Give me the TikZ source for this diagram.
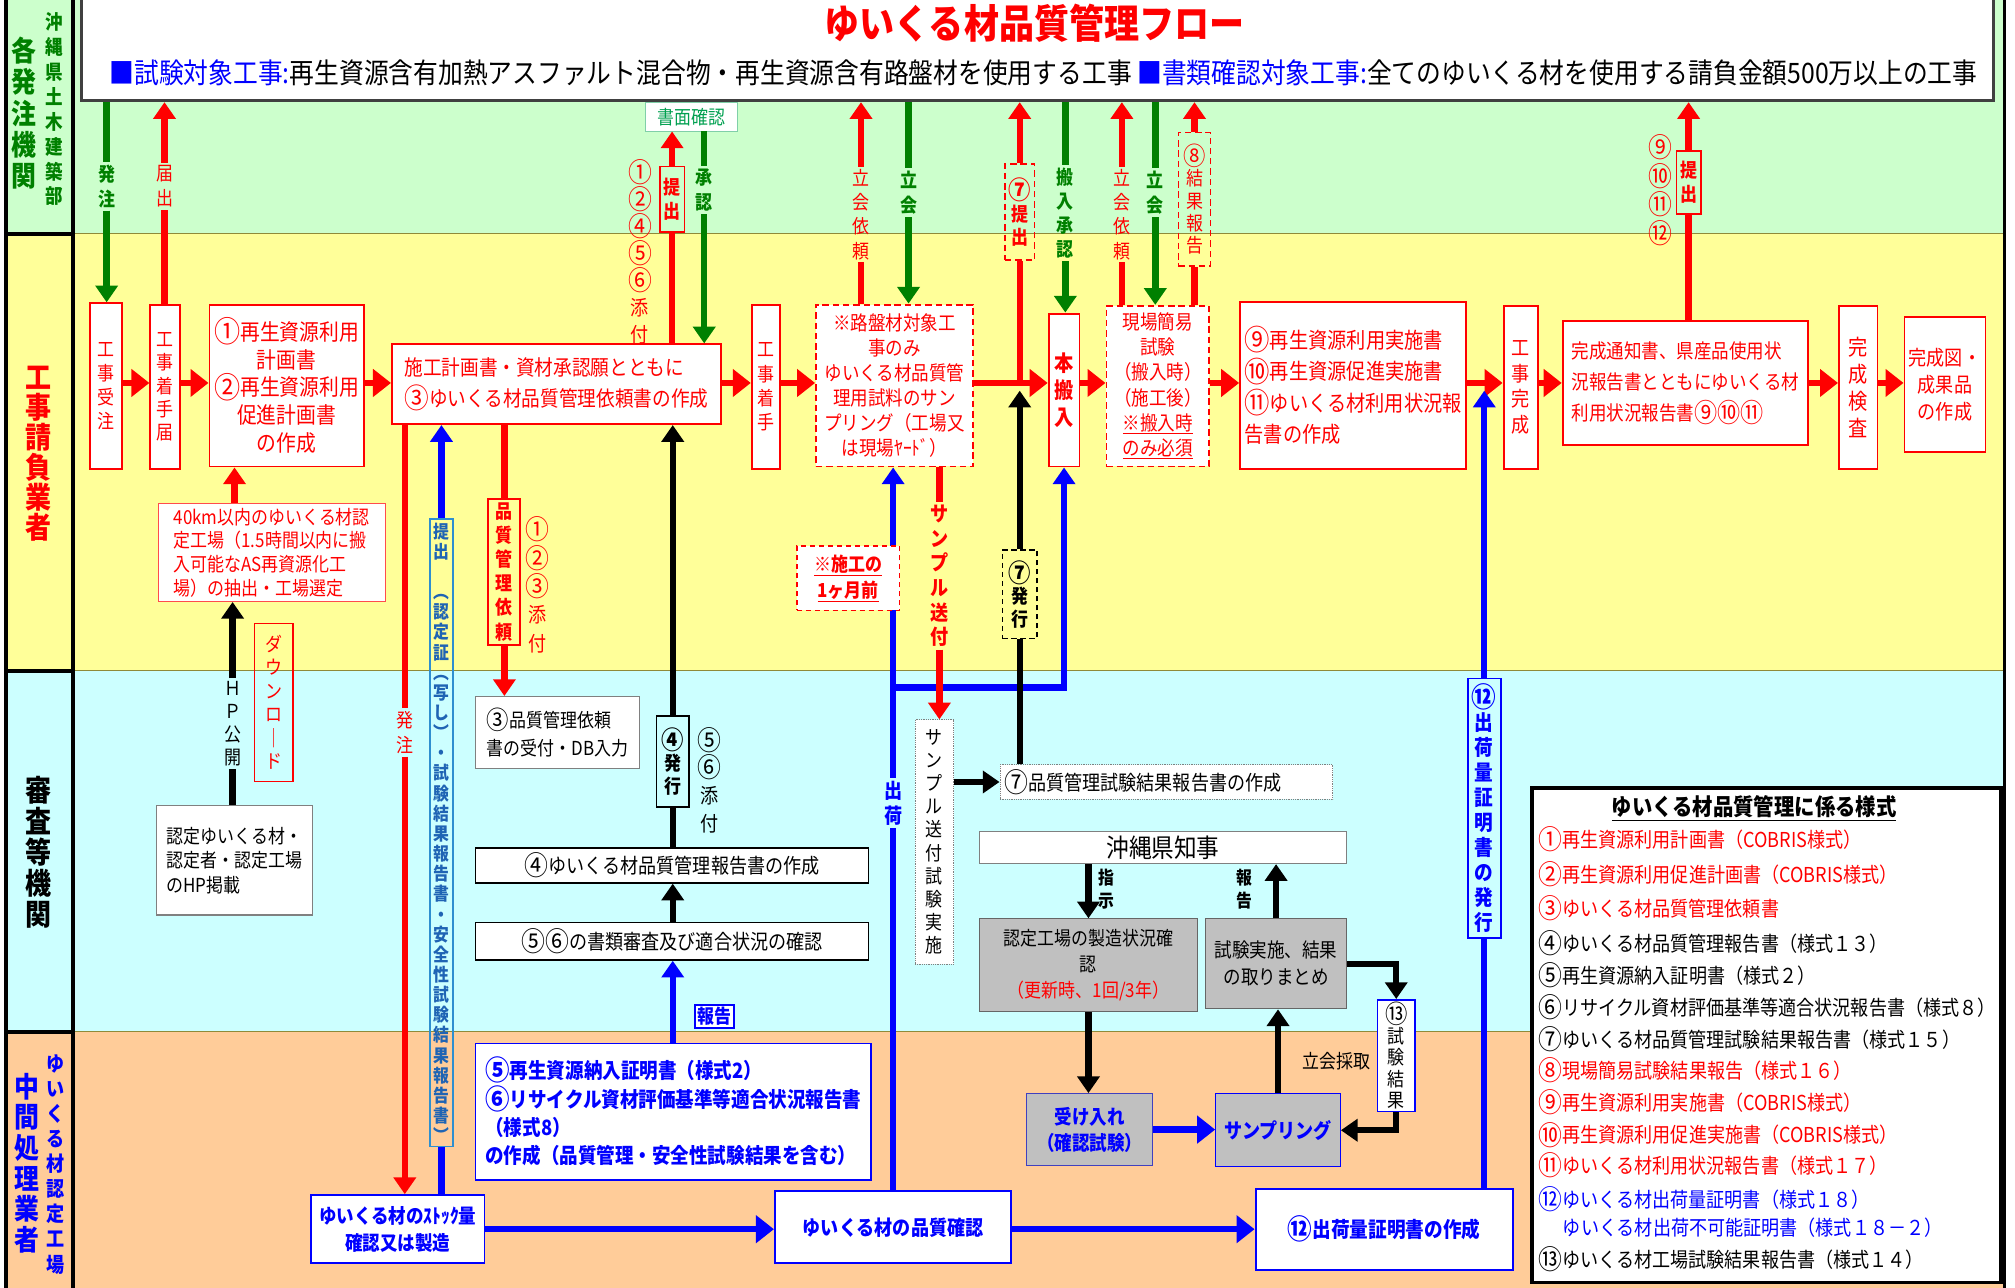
\documentclass[tikz,border=0pt]{standalone}
\usepackage{fontspec}
\usepackage{graphicx}
\setmainfont{Noto Sans CJK JP}[FakeStretch=0.88]
\usetikzlibrary{arrows.meta}
\definecolor{lgreen}{HTML}{CCFFCC}
\definecolor{lyellow}{HTML}{FFFF99}
\definecolor{lcyan}{HTML}{CCFFFF}
\definecolor{lorange}{HTML}{FFCC99}
\definecolor{dgreen}{HTML}{008000}
\definecolor{mgreen}{HTML}{00A050}
\definecolor{boxgray}{HTML}{C0C0C0}
\definecolor{tblue}{HTML}{1F64B4}
\definecolor{tblueb}{HTML}{2E8FD0}
\newcommand\fs[2]{\fontsize{#1}{#2}\selectfont}
\newcommand\C[1]{\raisebox{-0.1em}{\scalebox{1.32}{#1}}}
\ExplSyntaxOn
\NewDocumentCommand\VT{O{1.2}m}{\vbox{\baselineskip=#1em\relax\lineskiplimit=-100pt\relax\lineskip=0pt\relax\tl_map_inline:nn{#2}{\hbox_to_wd:nn{1em}{\hss##1\hss}}}}
\ExplSyntaxOff
\newcommand\BX[7]{\node[inner sep=0pt,minimum width={(#4-#2)*1pt},minimum height={(#5-#3)*1pt},#6] (#1) at ({(#2+#4)/2},{(#3+#5)/2}) {#7};}
\tikzset{
 rl/.style={draw=red,line width=5pt},
 gl/.style={draw=dgreen,line width=5pt},
 bll/.style={draw=blue,line width=5pt},
 kl/.style={draw=black,line width=5pt},
 arr/.style={-{Triangle[length=13pt,width=17pt]}},
 farr/.style={-{Triangle[length=14pt,width=21pt]}},
 rbox/.style={draw=red,line width=1.5pt,fill=white,text=red,font=\fs{15}{15}},
 rdbox/.style={draw=red,dash pattern=on 5pt off 3pt,line width=1.5pt,fill=white,text=red},
 bbox/.style={draw=blue,line width=1.5pt,fill=white,text=blue},
 gbox/.style={draw=gray!80!black,line width=0.8pt,fill=boxgray},
 wbox/.style={draw=gray,line width=0.8pt,fill=white},
 kbox/.style={draw=black,line width=1.2pt,fill=white},
 lab/.style={inner sep=2pt},
 lg/.style={anchor=west,inner sep=0pt,font=\fs{16}{16}},
}
\begin{document}
\begin{tikzpicture}[x=1pt,y=-1pt]
\useasboundingbox (0,0) rectangle (1568,1002);
\fill[white] (0,0) rectangle (1568,1002);
% lanes
\fill[lgreen] (5,0) rectangle (1560,182);
\fill[lyellow] (5,182) rectangle (1560,522);
\fill[lcyan] (5,522) rectangle (1560,803);
\fill[lorange] (5,803) rectangle (1560,1002);
\draw[olive!60!gray,line width=0.8pt] (57,182)--(1560,182) (57,522)--(1560,522) (57,803)--(1560,803);
\draw[line width=3pt] (5,0)--(5,1002) (57,0)--(57,1002) (5,182)--(57,182) (5,522)--(57,522) (5,803)--(57,803);
\draw[line width=2pt] (1560,0)--(1560,1002);
% lane labels
\node[text=dgreen,font=\fs{22}{22}\bfseries] (laneA1) at (19,88) {\VT[1.1]{各発注機関}};
\node[text=dgreen,font=\fs{15.5}{15.5}\bfseries] (laneA2) at (42,85) {\VT[1.25]{沖縄県土木建築部}};
\node[text=red,font=\fs{23}{23}\bfseries] (laneB) at (30,353) {\VT[1.02]{工事請負業者}};
\node[font=\fs{23}{23}\bfseries] (laneC) at (30,663) {\VT[1.05]{審査等機関}};
\node[text=blue,font=\fs{22}{22}\bfseries] (laneD1) at (21,905) {\VT[1.08]{中間処理業者}};
\node[text=blue,font=\fs{16}{16}\bfseries] (laneD2) at (43,906) {\VT[1.22]{ゆいくる材認定工場}};
% title box
\node[draw=black!75,line width=2.5pt,fill=white,minimum width=1488,minimum height=80,inner sep=0,anchor=north west] (title) at (62,-3) {};
\node[text=red,font=\fs{31}{31}\bfseries] (ttl) at (805,18) {ゆいくる材品質管理フロー};
\node[font=\fs{21.9}{21.9}] (sub) at (812,57) {{\color{blue}■試験対象工事:}再生資源含有加熱アスファルト混合物・再生資源含有路盤材を使用する工事\ {\color{blue}■書類確認対象工事:}全てのゆいくる材を使用する請負金額500万以上の工事};
% yellow lane boxes
\BX{juchu}{70}{236}{95}{365}{rbox}{\VT[1.25]{工事受注}}
\BX{chakutodoke}{117}{237}{140}{365}{rbox}{\VT[1.2]{工事着手届}}
\BX{keikaku}{163}{237}{283}{363}{rbox,align=center,font=\fs{17.5}{21.5}}{\C①再生資源利用\\計画書\\\C②再生資源利用\\促進計画書\\の作成}
\BX{sekou}{305}{268}{561}{330}{rbox,align=left,font=\fs{16.5}{24}}{施工計画書・資材承認願とともに\\\C③ゆいくる材品質管理依頼書の作成}
\BX{chakushu}{585}{237}{607}{365}{rbox}{\VT[1.25]{工事着手}}
\BX{robanzai}{635}{237}{757}{363}{rdbox,align=center,font=\fs{15.5}{19.5}}{※路盤材対象工\\事のみ\\ゆいくる材品質管\\理用試料のサン\\プリング（工場又\\は現場ﾔｰﾄﾞ）}
\BX{honhannyu}{816}{244}{840}{363}{rbox,font=\fs{17}{17}\bfseries}{\VT[1.25]{本搬入}}
\BX{genba}{861}{238}{941}{363}{rdbox,align=center,font=\fs{15.5}{19.5}}{現場簡易\\試験\\（搬入時）\\（施工後）\\\underline{※搬入時}\\\underline{のみ必須}}
\BX{jisshi}{965}{235}{1141}{365}{rbox,align=left,font=\fs{17}{24.5}}{\C⑨再生資源利用実施書\\\C⑩再生資源促進実施書\\\C⑪ゆいくる材利用状況報\\告書の作成}
\BX{kansei}{1170}{238}{1197}{365}{rbox,font=\fs{16}{16}}{\VT[1.25]{工事完成}}
\BX{tsuchi}{1216}{250}{1407}{346}{rbox,align=left,font=\fs{15.5}{24}}{完成通知書、県産品使用状\\況報告書とともにゆいくる材\\利用状況報告書\C⑨\C⑩\C⑪}
\BX{kensa}{1431}{238}{1461}{365}{rbox,font=\fs{17}{17}}{\VT[1.25]{完成検査}}
\BX{seika}{1482}{247}{1545}{352}{rbox,align=center,font=\fs{16}{21}}{完成図・\\成果品\\の作成}
\BX{km40}{123}{392}{300}{468}{draw=red!70,line width=0.8pt,fill=white,text=red,align=left,font=\fs{15}{18.5}}{40km以内のゆいくる材認\\定工場（1.5時間以内に搬\\入可能なAS再資源化工\\場）の抽出・工場選定}
% cyan lane boxes
\BX{hp}{122}{627}{243}{712}{wbox,align=left,font=\fs{15}{19}}{認定ゆいくる材・\\認定者・認定工場\\のHP掲載}
\BX{dl}{198}{485}{228}{608}{draw=red,line width=1.2pt,text=red,font=\fs{15}{15}}{\VT[1.22]{ダウンロ｜ド}}
\BX{irai}{380}{388}{405}{502}{draw=red,line width=1.5pt,fill=lyellow,text=red,font=\fs{15}{15}\bfseries}{\VT[1.25]{品質管理依頼}}
\BX{uketsuke}{370}{542}{498}{598}{wbox,align=left,font=\fs{15}{22}}{\C③品質管理依頼\\書の受付・DB入力}
\BX{rep4}{370}{660}{676}{687}{kbox,font=\fs{16}{16}}{\C④ゆいくる材品質管理報告書の作成}
\BX{rev56}{370}{718}{676}{747}{kbox,font=\fs{16}{16}}{\C⑤\C⑥の書類審査及び適合状況の確認}
\BX{sample}{712}{560}{742}{750}{draw=gray,densely dotted,fill=white,font=\fs{15}{15}}{\VT[1.2]{サンプル送付試験実施}}
\BX{r7}{778}{595}{1037}{622}{draw=gray,densely dotted,fill=white,font=\fs{16}{16},text width=252pt,align=left}{\C⑦品質管理試験結果報告書の作成}
\BX{chiji}{762}{647}{1048}{672}{wbox,font=\fs{20}{20}}{沖縄県知事}
\BX{seizo}{762}{715}{932}{787}{gbox,align=center,font=\fs{15}{20}}{認定工場の製造状況確\\認\\{\color{red}（更新時、1回/3年）}}
\BX{torimatome}{938}{715}{1048}{785}{gbox,align=center,font=\fs{15.5}{21}}{試験実施、結果\\の取りまとめ}
\BX{r13}{1072}{778}{1101}{865}{draw=blue,line width=1.2pt,fill=white,font=\fs{15}{15}}{\VT[1.12]{{\C⑬}試験結果}}
% orange lane boxes
\BX{ukeire}{799}{851}{897}{907}{gbox,draw=blue!50!gray,text=blue,align=center,font=\fs{15.5}{20}\bfseries}{受け入れ\\（確認試験）}
\BX{sampling}{946}{851}{1043}{908}{gbox,draw=blue,text=blue,font=\fs{16}{16}\bfseries}{サンプリング}
\BX{blue56}{370}{812}{678}{918}{bbox,align=left,font=\fs{16.4}{22}\bfseries}{\C⑤再生資源納入証明書（様式2）\\\C⑥リサイクル資材評価基準等適合状況報告書\\（様式8）\\の作成（品質管理・安全性試験結果を含む）}
\BX{stock}{242}{930}{377}{983}{bbox,align=center,font=\fs{15.5}{21}\bfseries}{ゆいくる材のｽﾄｯｸ量\\確認又は製造}
\BX{hinkaku}{603}{927}{787}{983}{bbox,font=\fs{16}{16}\bfseries}{ゆいくる材の品質確認}
\BX{shukka}{977}{925}{1177}{988}{bbox,font=\fs{16.5}{16.5}\bfseries}{\C⑫出荷量証明書の作成}
% coordinates
\coordinate (fy) at (0,298);
\coordinate (m7r) at (793.5,298);
\coordinate (m7) at (793.5,304);
\coordinate (m12) at (1155,304);
\coordinate (jn) at (695,535);
% main flow arrows
\foreach \a/\b in {juchu/chakutodoke,chakutodoke/keikaku,keikaku/sekou,sekou/chakushu,chakushu/robanzai,robanzai/honhannyu,honhannyu/genba,genba/jisshi,jisshi/kansei,kansei/tsuchi,tsuchi/kensa,kensa/seika}
  \draw[rl,farr] (\a.east |- fy) -- (\b.west |- fy);
% green lane labels and arrows
\node[lab,text=dgreen,font=\fs{15}{15}\bfseries] (l1) at (83,145) {\VT[1.3]{発注}};
\draw[gl] (l1.north |- title.south) -- (l1.north);
\draw[gl,arr] (l1.south) -- (l1.south |- juchu.north);
\node[lab,text=red,font=\fs{15}{15}] (l2) at (128,145) {\VT[1.3]{届出}};
\draw[rl] (chakutodoke.north -| l2) -- (l2.south);
\draw[rl,arr] (l2.north) -- (l2.north |- title.south);
\node[draw=mgreen!50,line width=0.6pt,fill=white,text=mgreen,font=\fs{15}{15},minimum width=72,minimum height=22,inner sep=0] (shomen) at (538,91) {書面確認};
\node[draw=red,line width=1.2pt,text=red,font=\fs{15}{15}\bfseries,inner xsep=2pt,inner ysep=9pt] (l3) at (523,155) {\VT[1.25]{提出}};
\draw[rl] (sekou.north -| l3) -- (l3.south);
\draw[rl,arr] (l3.north) -- (l3.north |- shomen.south);
\node[text=red,font=\fs{16}{16}] (l3n) at (498,196) {\VT[1.32]{{\C①}{\C②}{\C④}{\C⑤}{\C⑥}添付}};
\node[lab,text=dgreen,font=\fs{15}{15}\bfseries] (l5) at (548,148) {\VT[1.3]{承認}};
\draw[gl] (l5.north |- shomen.south) -- (l5.north);
\draw[gl,arr] (l5.south) -- (l5.south |- sekou.north);
\node[lab,text=red,font=\fs{15}{15}] (l6) at (670,167) {\VT[1.25]{立会依頼}};
\draw[rl] (robanzai.north -| l6) -- (l6.south);
\draw[rl,arr] (l6.north) -- (l6.north |- title.south);
\node[lab,text=dgreen,font=\fs{15}{15}\bfseries] (l7) at (707,150) {\VT[1.3]{立会}};
\draw[gl] (title.south -| l7) -- (l7.north);
\draw[gl,arr] (l7.south) -- (robanzai.north -| l7);
\node[draw=red,dash pattern=on 5pt off 3pt,line width=1.2pt,text=red,font=\fs{15}{15}\bfseries,minimum width=23,minimum height=75,inner sep=0] (l8) at (793.5,165) {\VT[1.2]{{\C⑦}提出}};
\draw[rl] (m7r) -- (l8.south);
\draw[rl,arr] (l8.north) -- (l8.north |- title.south);
\node[lab,text=dgreen,font=\fs{15}{15}\bfseries] (l9) at (829,166) {\VT[1.25]{搬入承認}};
\draw[gl] (title.south -| l9) -- (l9.north);
\draw[gl,arr] (l9.south) -- (honhannyu.north -| l9);
\node[lab,text=red,font=\fs{15}{15}] (l10) at (873,167) {\VT[1.25]{立会依頼}};
\draw[rl] (genba.north -| l10) -- (l10.south);
\draw[rl,arr] (l10.north) -- (l10.north |- title.south);
\node[lab,text=dgreen,font=\fs{15}{15}\bfseries] (l11) at (899,150) {\VT[1.3]{立会}};
\draw[gl] (title.south -| l11) -- (l11.north);
\draw[gl,arr] (l11.south) -- (genba.north -| l11);
\node[draw=red,dash pattern=on 5pt off 3pt,line width=1.2pt,text=red,font=\fs{15}{15},minimum width=25,minimum height=104,inner sep=0] (l12) at (929.5,155) {\VT[1.15]{{\C⑧}結果報告}};
\draw[rl] (genba.north -| l12) -- (l12.south);
\draw[rl,arr] (l12.north) -- (l12.north |- title.south);
\node[draw=red,line width=1.2pt,text=red,font=\fs{15}{15}\bfseries,inner xsep=2pt,inner ysep=8pt] (l13) at (1314,142) {\VT[1.25]{提出}};
\draw[rl] (tsuchi.north -| l13) -- (l13.south);
\draw[rl,arr] (l13.north) -- (l13.north |- title.south);
\node[text=red,font=\fs{16}{16}] (l13n) at (1292,148) {\VT[1.4]{{\C⑨}{\C⑩}{\C⑪}{\C⑫}}};
% yellow/cyan connectors
\draw[rl,arr] (km40.north -| hp.north) -- (keikaku.south -| hp.north);
\node[lab,font=\fs{15}{15}] (lhp) at (181,563) {\VT[1.2]{ＨＰ公開}};
\draw[kl] (hp.north -| lhp) -- (lhp.south);
\draw[kl,arr] (lhp.north) -- (lhp.north |- km40.south);
\node[lab,text=red,font=\fs{15}{15}] (lhc) at (315,570) {\VT[1.3]{発注}};
\draw[rl] (sekou.south -| lhc) -- (lhc.north);
\draw[rl,arr] (lhc.south) -- (stock.north -| lhc);
\node[draw=tblueb,line width=1.2pt,text=tblue,font=\fs{14}{14}\bfseries,inner xsep=2pt,inner ysep=3pt] (teishutsu) at (343.5,648) {\VT[1.12]{提出　︵認定証︵写し︶・試験結果報告書・安全性試験結果報告書︶}};
\draw[bll] (stock.north -| teishutsu) -- (teishutsu.south);
\draw[bll,arr] (teishutsu.north) -- (sekou.south -| teishutsu);
\draw[rl] (sekou.south -| irai) -- (irai.north);
\draw[rl,arr] (irai.south) -- (uketsuke.north -| irai);
\node[text=red,font=\fs{16}{16}] (l123) at (418,455) {\VT[1.38]{{\C①}{\C②}{\C③}添付}};
\node[draw,line width=1.2pt,font=\fs{15}{15}\bfseries,minimum width=25,minimum height=71,inner sep=0] (h4) at (523.5,592.5) {\VT[1.2]{{\C④}発行}};
\draw[kl] (rep4.north -| h4) -- (h4.south);
\draw[kl,arr] (h4.north) -- (sekou.south -| h4);
\node[font=\fs{16}{16}] (l56) at (552,607) {\VT[1.35]{{\C⑤}{\C⑥}添付}};
\draw[kl,arr] (rev56.north -| h4) -- (rep4.south -| h4);
\draw[bll,arr] (blue56.north -| h4) -- (rev56.south -| h4);
\node[draw=blue,line width=1.5pt,fill=white,text=blue,font=\fs{15}{15}\bfseries,inner sep=2pt] (hokoku) at (556,791) {報告};
% blue shipping
\draw[bll,farr] (stock.east) -- (stock.east -| hinkaku.west);
\draw[bll,farr] (hinkaku.east |- shukka.west) -- (shukka.west);
\node[lab,text=blue,font=\fs{16}{16}\bfseries] (lsk) at (695,625) {\VT[1.25]{出荷}};
\draw[bll] (hinkaku.north -| lsk) -- (lsk.south);
\draw[bll,arr] (lsk.north) -- (robanzai.south -| lsk);
\draw[bll,arr] (jn) -| (honhannyu.south);
\BX{ikkagetsu}{620}{425}{700}{475}{draw=red,dash pattern=on 4pt off 3pt,line width=1.2pt,fill=white,text=red,align=center,font=\fs{15}{20}\bfseries}{\underline{※施工の}\\\underline{1ヶ月前}}
\node[lab,text=red,font=\fs{16}{16}\bfseries] (lss) at (731,448) {\VT[1.2]{サンプル送付}};
\draw[rl] (robanzai.south -| lss) -- (lss.north);
\draw[rl,arr] (lss.south) -- (sample.north -| lss);
\draw[kl,arr] (sample.east |- r7.west) -- (r7.west);
\node[draw,dash pattern=on 4pt off 3pt,line width=1.2pt,font=\fs{15}{15}\bfseries,minimum width=27,minimum height=69,inner sep=0] (h7) at (793.5,462.5) {\VT[1.2]{{\C⑦}発行}};
\draw[kl] (r7.north -| h7) -- (h7.south);
\draw[kl,arr] (h7.north) -- (m7);
% governor and factory
\draw[kl,arr] (chiji.south -| seizo.north) -- (seizo.north);
\node[font=\fs{14}{14}\bfseries] (lsj) at (861,692) {\VT[1.3]{指示}};
\draw[kl,arr] (torimatome.north) -- (chiji.south -| torimatome.north);
\node[font=\fs{14}{14}\bfseries] (lhk) at (968,692) {\VT[1.3]{報告}};
\draw[kl,arr] (torimatome.east) -| (r13.north);
\draw[kl,arr] (r13.south) |- (sampling.east);
\draw[kl,arr] (seizo.south) -- (seizo.south |- ukeire.north);
\draw[bll,farr] (ukeire.east) -- (ukeire.east -| sampling.west);
\draw[kl,arr] (sampling.north) -- (sampling.north |- torimatome.south);
\node[font=\fs{15}{15}] (ltk) at (1040,826) {立会採取};
\node[draw=blue,line width=1.5pt,text=blue,font=\fs{16.5}{16.5}\bfseries,minimum width=26,minimum height=202,inner sep=0] (l12b) at (1155,629) {\VT[1.18]{{\C⑫}出荷量証明書の発行}};
\draw[bll] (shukka.north -| l12b) -- (l12b.south);
\draw[bll,arr] (l12b.north) -- (m12);
% legend
\BX{legend}{1192}{613}{1557}{998}{draw=black,line width=3pt,fill=white}{}
\node[font=\fs{18}{18}\bfseries] (lgt) at (1365,629) {\underline{ゆいくる材品質管理に係る様式}};
\node[lg,text=red] (lg1) at (1197,653) {\C①再生資源利用計画書（COBRIS様式）};
\node[lg,text=red] (lg2) at (1197,680) {\C②再生資源利用促進計画書（COBRIS様式）};
\node[lg,text=red] (lg3) at (1197,707) {\C③ゆいくる材品質管理依頼書};
\node[lg] (lg4) at (1197,734) {\C④ゆいくる材品質管理報告書（様式１３）};
\node[lg] (lg5) at (1197,759) {\C⑤再生資源納入証明書（様式２）};
\node[lg] (lg6) at (1197,784) {\C⑥リサイクル資材評価基準等適合状況報告書（様式８）};
\node[lg] (lg7) at (1197,809) {\C⑦ゆいくる材品質管理試験結果報告書（様式１５）};
\node[lg,text=red] (lg8) at (1197,833) {\C⑧現場簡易試験結果報告（様式１６）};
\node[lg,text=red] (lg9) at (1197,858) {\C⑨再生資源利用実施書（COBRIS様式）};
\node[lg,text=red] (lg10) at (1197,883) {\C⑩再生資源利用促進実施書（COBRIS様式）};
\node[lg,text=red] (lg11) at (1197,907) {\C⑪ゆいくる材利用状況報告書（様式１７）};
\node[lg,text=blue] (lg12) at (1197,933) {\C⑫ゆいくる材出荷量証明書（様式１８）};
\node[lg,text=blue] (lg12b) at (1216,955) {ゆいくる材出荷不可能証明書（様式１８－２）};
\node[lg] (lg13) at (1197,980) {\C⑬ゆいくる材工場試験結果報告書（様式１４）};
\end{tikzpicture}
\end{document}
